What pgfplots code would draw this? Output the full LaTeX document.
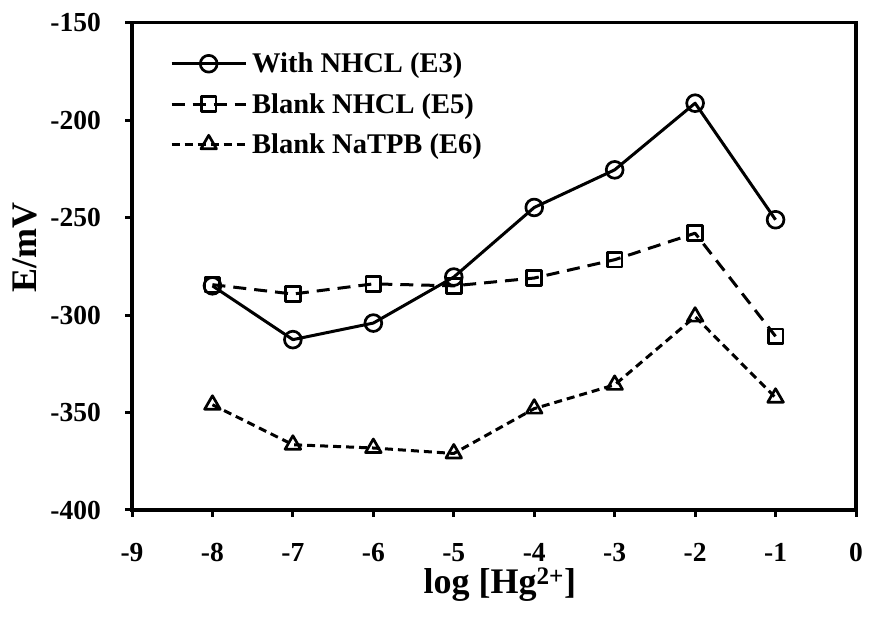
\documentclass[border=0pt]{standalone}
\usepackage{fontspec}
\setmainfont{Liberation Serif}
\usepackage{pgfplots}
\pgfplotsset{compat=1.18}

\newcommand\ticksz{\fontsize{27.5bp}{31bp}\selectfont\bfseries}
\newcommand\legsz{\fontsize{28.5bp}{32bp}\selectfont\bfseries}
\newcommand\labsz{\fontsize{36bp}{40bp}\selectfont\bfseries}

\begin{document}
\begin{tikzpicture}[x=1bp,y=1bp]
\path[use as bounding box] (0,0) rectangle (869,617);
\begin{axis}[
  at={(132bp,107bp)}, anchor=south west,
  scale only axis, width=724bp, height=487.3bp,
  xmin=-9, xmax=0, ymin=-400, ymax=-150,
  xtick={-9,-8,-7,-6,-5,-4,-3,-2,-1,0},
  xticklabels={-9,-8,-7,-6,-5,-4,-3,-2,-1,0},
  ytick={-400,-350,-300,-250,-200,-150},
  yticklabels={-400,-350,-300,-250,-200,-150},
  xtick pos=left, ytick pos=left,
  tick align=outside, major tick length=7bp,
  tick style={line width=3bp, black},
  axis line style={line width=3.2bp},
  tick label style={font=\ticksz},
  xticklabel style={inner sep=0pt, anchor=north, yshift=-26bp},
  yticklabel style={inner sep=0pt, anchor=east, xshift=-24bp},
  xlabel={log [Hg\textsuperscript{2+}]},
  ylabel={E/mV},
  every axis x label/.style={at={(axis description cs:0.508,-0.154)}, anchor=center, font=\labsz},
  every axis y label/.style={at={(axis description cs:-0.1485,0.5377)}, anchor=center, rotate=90, font=\labsz},
  legend cell align=left,
  legend style={at={(axis description cs:0.0525,0.94)}, anchor=north west,
    draw=none, fill=none, inner sep=0pt, row sep=17bp, font=\legsz,
    nodes={inner sep=1bp}, column sep=4bp},
  legend image code/.code={%
    \draw[mark repeat=2, mark phase=2, #1] plot coordinates {(0bp,0bp) (37bp,0bp) (74bp,0bp)};},
  every axis plot/.append style={line width=3bp, line join=round, black},
]
\addplot[solid, mark=o, mark size=8.4bp, mark options={solid, line width=2.7bp}]
  coordinates {(-8,-285) (-7,-312.6) (-6,-304.1) (-5,-280.5) (-4,-244.8) (-3,-225.5) (-2,-191.3) (-1,-251.1)};
\addlegendentry{With NHCL (E3)}
\addplot[dash pattern=on 13bp off 8bp, mark=square, mark size=7.4bp, mark options={solid, line width=2.7bp}]
  coordinates {(-8,-284.4) (-7,-289.2) (-6,-284) (-5,-285) (-4,-281) (-3,-271.6) (-2,-258) (-1,-310.9)};
\addlegendentry{Blank NHCL (E5)}
\addplot[dash pattern=on 8bp off 5bp, mark=triangle, mark size=9bp, mark options={solid, line width=2.7bp}]
  coordinates {(-8,-346) (-7,-366.5) (-6,-368.2) (-5,-371) (-4,-348) (-3,-335.8) (-2,-300.8) (-1,-342.4)};
\addlegendentry{Blank NaTPB (E6)}
\end{axis}
\end{tikzpicture}
\end{document}
